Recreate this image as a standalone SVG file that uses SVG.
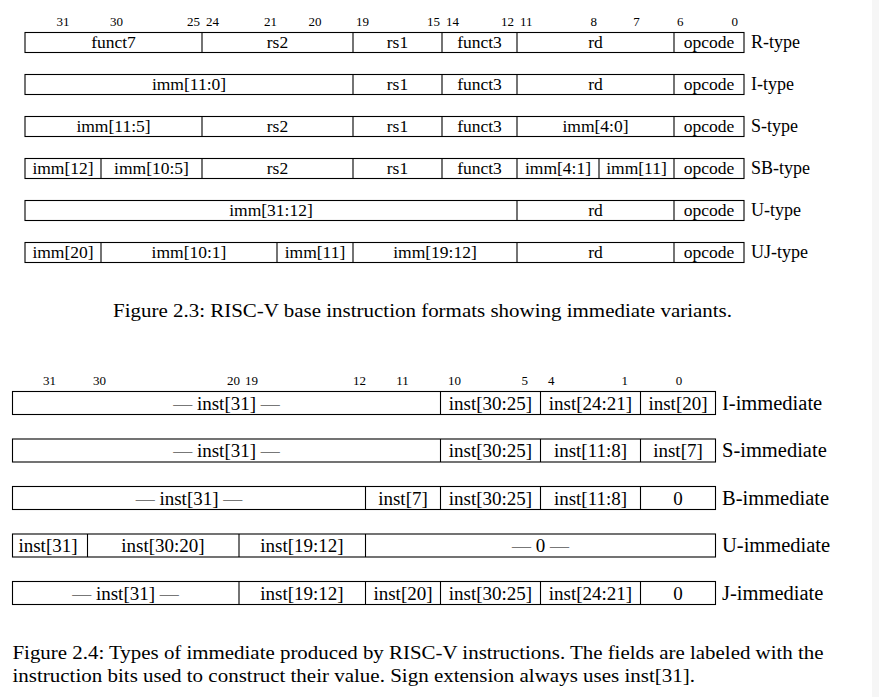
<svg xmlns="http://www.w3.org/2000/svg" width="879" height="697" viewBox="0 0 879 697">
<style>
text{font-family:"Liberation Serif","DejaVu Serif",serif;fill:#000}
.bit{font-size:13px}
.f{font-size:17.5px;text-anchor:middle}
.lab{font-size:18px}
.g{font-size:19px;text-anchor:middle}
.lab2{font-size:20.5px}
.cap{font-size:18px}
.dash{fill:#777}
rect.box{fill:none;stroke:#000;stroke-width:1.1}
line{stroke:#000;stroke-width:1.1}
</style>
<rect x="0" y="0" width="879" height="697" fill="#fff"/>
<rect x="872" y="0" width="7" height="697" fill="#f6f6f6"/>

<g id="bits-top">
<text class="bit" x="63" y="26" text-anchor="middle">31</text>
<text class="bit" x="110" y="26">30</text>
<text class="bit" x="200" y="26" text-anchor="end">25</text>
<text class="bit" x="206" y="26">24</text>
<text class="bit" x="277" y="26" text-anchor="end">21</text>
<text class="bit" x="315" y="26" text-anchor="middle">20</text>
<text class="bit" x="356" y="26">19</text>
<text class="bit" x="440" y="26" text-anchor="end">15</text>
<text class="bit" x="446" y="26">14</text>
<text class="bit" x="514" y="26" text-anchor="end">12</text>
<text class="bit" x="520" y="26">11</text>
<text class="bit" x="597" y="26" text-anchor="end">8</text>
<text class="bit" x="636.5" y="26" text-anchor="middle">7</text>
<text class="bit" x="677" y="26">6</text>
<text class="bit" x="738" y="26" text-anchor="end">0</text>
</g>

<g id="r-type">
<rect class="box" x="25" y="32.5" width="719" height="20"/>
<line x1="202" y1="32.5" x2="202" y2="52.5"/><line x1="353" y1="32.5" x2="353" y2="52.5"/><line x1="442" y1="32.5" x2="442" y2="52.5"/><line x1="517" y1="32.5" x2="517" y2="52.5"/><line x1="674" y1="32.5" x2="674" y2="52.5"/>
<text class="f" x="113.5" y="48">funct7</text><text class="f" x="277.5" y="48">rs2</text><text class="f" x="397.5" y="48">rs1</text><text class="f" x="479.5" y="48">funct3</text><text class="f" x="595.5" y="48">rd</text><text class="f" x="709" y="48">opcode</text>
<text class="lab" x="751" y="48">R-type</text>
</g>

<g id="i-type">
<rect class="box" x="25" y="74.5" width="719" height="20"/>
<line x1="353" y1="74.5" x2="353" y2="94.5"/><line x1="442" y1="74.5" x2="442" y2="94.5"/><line x1="517" y1="74.5" x2="517" y2="94.5"/><line x1="674" y1="74.5" x2="674" y2="94.5"/>
<text class="f" x="189" y="90">imm[11:0]</text><text class="f" x="397.5" y="90">rs1</text><text class="f" x="479.5" y="90">funct3</text><text class="f" x="595.5" y="90">rd</text><text class="f" x="709" y="90">opcode</text>
<text class="lab" x="751" y="90">I-type</text>
</g>

<g id="s-type">
<rect class="box" x="25" y="116.5" width="719" height="20"/>
<line x1="202" y1="116.5" x2="202" y2="136.5"/><line x1="353" y1="116.5" x2="353" y2="136.5"/><line x1="442" y1="116.5" x2="442" y2="136.5"/><line x1="517" y1="116.5" x2="517" y2="136.5"/><line x1="674" y1="116.5" x2="674" y2="136.5"/>
<text class="f" x="113.5" y="132">imm[11:5]</text><text class="f" x="277.5" y="132">rs2</text><text class="f" x="397.5" y="132">rs1</text><text class="f" x="479.5" y="132">funct3</text><text class="f" x="595.5" y="132">imm[4:0]</text><text class="f" x="709" y="132">opcode</text>
<text class="lab" x="751" y="132">S-type</text>
</g>

<g id="sb-type">
<rect class="box" x="25" y="158.5" width="719" height="20"/>
<line x1="101" y1="158.5" x2="101" y2="178.5"/><line x1="202" y1="158.5" x2="202" y2="178.5"/><line x1="353" y1="158.5" x2="353" y2="178.5"/><line x1="442" y1="158.5" x2="442" y2="178.5"/><line x1="517" y1="158.5" x2="517" y2="178.5"/><line x1="599" y1="158.5" x2="599" y2="178.5"/><line x1="674" y1="158.5" x2="674" y2="178.5"/>
<text class="f" x="63" y="174">imm[12]</text><text class="f" x="151.5" y="174">imm[10:5]</text><text class="f" x="277.5" y="174">rs2</text><text class="f" x="397.5" y="174">rs1</text><text class="f" x="479.5" y="174">funct3</text><text class="f" x="558" y="174">imm[4:1]</text><text class="f" x="636.5" y="174">imm[11]</text><text class="f" x="709" y="174">opcode</text>
<text class="lab" x="751" y="174">SB-type</text>
</g>

<g id="u-type">
<rect class="box" x="25" y="200.5" width="719" height="20"/>
<line x1="517" y1="200.5" x2="517" y2="220.5"/><line x1="674" y1="200.5" x2="674" y2="220.5"/>
<text class="f" x="271" y="216">imm[31:12]</text><text class="f" x="595.5" y="216">rd</text><text class="f" x="709" y="216">opcode</text>
<text class="lab" x="751" y="216">U-type</text>
</g>

<g id="uj-type">
<rect class="box" x="25" y="242.5" width="719" height="20"/>
<line x1="101" y1="242.5" x2="101" y2="262.5"/><line x1="277" y1="242.5" x2="277" y2="262.5"/><line x1="353" y1="242.5" x2="353" y2="262.5"/><line x1="517" y1="242.5" x2="517" y2="262.5"/><line x1="674" y1="242.5" x2="674" y2="262.5"/>
<text class="f" x="63" y="258">imm[20]</text><text class="f" x="189" y="258">imm[10:1]</text><text class="f" x="315" y="258">imm[11]</text><text class="f" x="435" y="258">imm[19:12]</text><text class="f" x="595.5" y="258">rd</text><text class="f" x="709" y="258">opcode</text>
<text class="lab" x="751" y="258">UJ-type</text>
</g>

<text id="caption-2-3" class="cap" x="113" y="316.5" textLength="619" lengthAdjust="spacingAndGlyphs">Figure 2.3: RISC-V base instruction formats showing immediate variants.</text>

<g id="bits-bottom">
<text class="bit" x="49.5" y="384.5" text-anchor="middle">31</text>
<text class="bit" x="93" y="384.5">30</text>
<text class="bit" x="240" y="384.5" text-anchor="end">20</text>
<text class="bit" x="245" y="384.5">19</text>
<text class="bit" x="366" y="384.5" text-anchor="end">12</text>
<text class="bit" x="402.5" y="384.5" text-anchor="middle">11</text>
<text class="bit" x="448" y="384.5">10</text>
<text class="bit" x="528" y="384.5" text-anchor="end">5</text>
<text class="bit" x="548" y="384.5">4</text>
<text class="bit" x="628" y="384.5" text-anchor="end">1</text>
<text class="bit" x="679" y="384.5" text-anchor="middle">0</text>
</g>

<g id="i-immediate">
<rect class="box" x="12.5" y="391.5" width="703" height="23"/>
<line x1="440.5" y1="391.5" x2="440.5" y2="414.5"/><line x1="540.5" y1="391.5" x2="540.5" y2="414.5"/><line x1="640.5" y1="391.5" x2="640.5" y2="414.5"/>
<text class="g" x="226.5" y="409.5"><tspan class="dash">—</tspan> inst[31] <tspan class="dash">—</tspan></text>
<text class="g" x="490.5" y="409.5">inst[30:25]</text><text class="g" x="590.5" y="409.5">inst[24:21]</text><text class="g" x="678" y="409.5">inst[20]</text>
<text class="lab2" x="722" y="409.5">I-immediate</text>
</g>

<g id="s-immediate">
<rect class="box" x="12.5" y="439" width="703" height="23"/>
<line x1="440.5" y1="439" x2="440.5" y2="462"/><line x1="540.5" y1="439" x2="540.5" y2="462"/><line x1="640.5" y1="439" x2="640.5" y2="462"/>
<text class="g" x="226.5" y="457"><tspan class="dash">—</tspan> inst[31] <tspan class="dash">—</tspan></text>
<text class="g" x="490.5" y="457">inst[30:25]</text><text class="g" x="590.5" y="457">inst[11:8]</text><text class="g" x="678" y="457">inst[7]</text>
<text class="lab2" x="722" y="457">S-immediate</text>
</g>

<g id="b-immediate">
<rect class="box" x="12.5" y="486.5" width="703" height="23"/>
<line x1="365.5" y1="486.5" x2="365.5" y2="509.5"/><line x1="440.5" y1="486.5" x2="440.5" y2="509.5"/><line x1="540.5" y1="486.5" x2="540.5" y2="509.5"/><line x1="640.5" y1="486.5" x2="640.5" y2="509.5"/>
<text class="g" x="189" y="504.5"><tspan class="dash">—</tspan> inst[31] <tspan class="dash">—</tspan></text>
<text class="g" x="403" y="504.5">inst[7]</text><text class="g" x="490.5" y="504.5">inst[30:25]</text><text class="g" x="590.5" y="504.5">inst[11:8]</text><text class="g" x="678" y="504.5">0</text>
<text class="lab2" x="722" y="504.5">B-immediate</text>
</g>

<g id="u-immediate">
<rect class="box" x="12.5" y="534" width="703" height="23"/>
<line x1="87.5" y1="534" x2="87.5" y2="557"/><line x1="239" y1="534" x2="239" y2="557"/><line x1="365.5" y1="534" x2="365.5" y2="557"/>
<text class="g" x="48" y="552">inst[31]</text><text class="g" x="163" y="552">inst[30:20]</text><text class="g" x="302" y="552">inst[19:12]</text>
<text class="g" x="540.5" y="552"><tspan class="dash">—</tspan> 0 <tspan class="dash">—</tspan></text>
<text class="lab2" x="722" y="552">U-immediate</text>
</g>

<g id="j-immediate">
<rect class="box" x="12.5" y="581.5" width="703" height="23"/>
<line x1="239" y1="581.5" x2="239" y2="604.5"/><line x1="365.5" y1="581.5" x2="365.5" y2="604.5"/><line x1="440.5" y1="581.5" x2="440.5" y2="604.5"/><line x1="540.5" y1="581.5" x2="540.5" y2="604.5"/><line x1="640.5" y1="581.5" x2="640.5" y2="604.5"/>
<text class="g" x="125.5" y="599.5"><tspan class="dash">—</tspan> inst[31] <tspan class="dash">—</tspan></text>
<text class="g" x="302" y="599.5">inst[19:12]</text><text class="g" x="403" y="599.5">inst[20]</text><text class="g" x="490.5" y="599.5">inst[30:25]</text><text class="g" x="590.5" y="599.5">inst[24:21]</text><text class="g" x="678" y="599.5">0</text>
<text class="lab2" x="722" y="599.5">J-immediate</text>
</g>

<g id="caption-2-4">
<text class="cap" x="12.5" y="659" textLength="811" lengthAdjust="spacingAndGlyphs">Figure 2.4: Types of immediate produced by RISC-V instructions. The fields are labeled with the</text>
<text class="cap" x="12.5" y="682" textLength="682.5" lengthAdjust="spacingAndGlyphs">instruction bits used to construct their value. Sign extension always uses inst[31].</text>
</g>
</svg>
